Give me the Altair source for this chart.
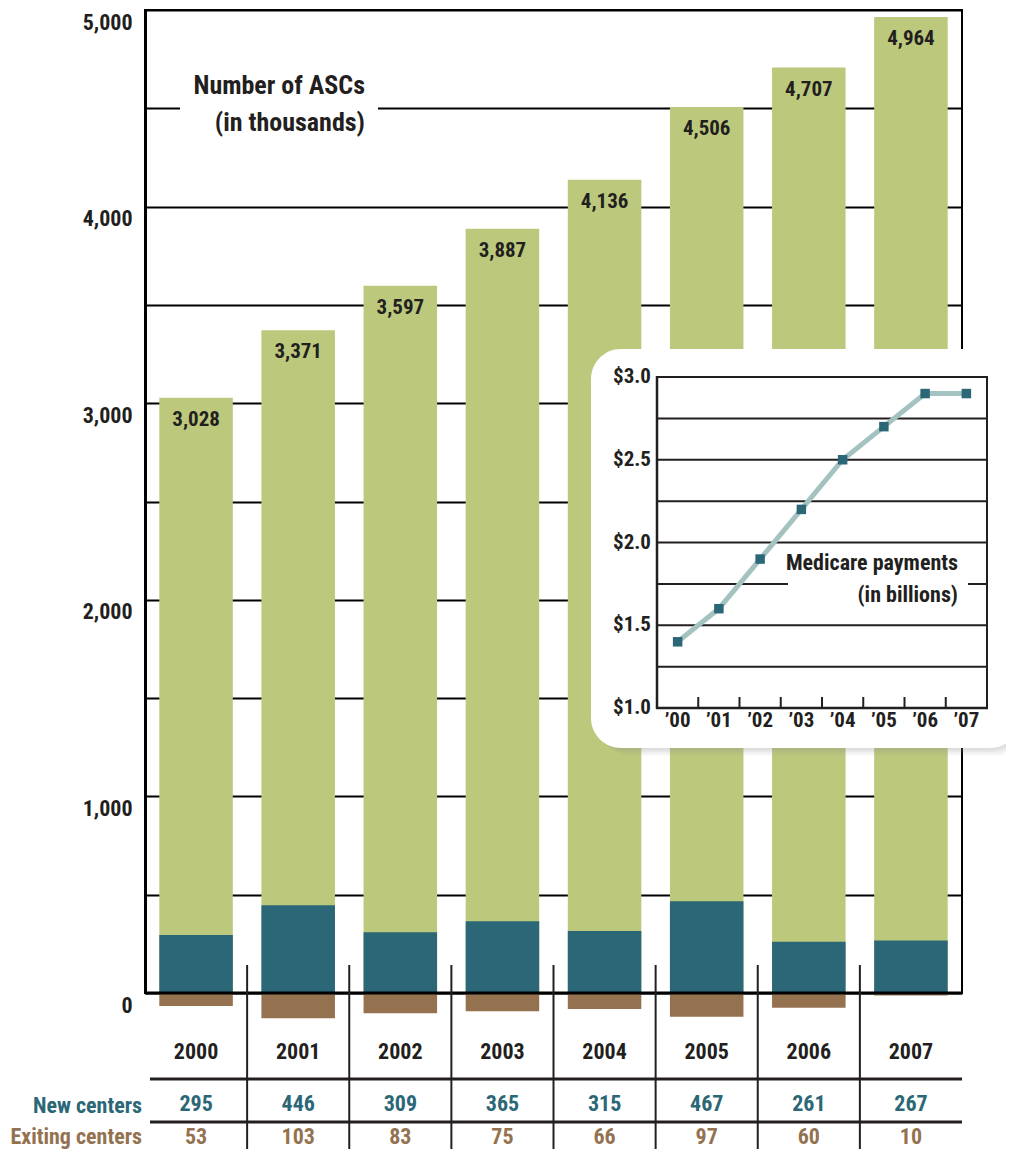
import altair as alt
import pandas as pd

# ---------------- data ----------------
years = ["2000", "2001", "2002", "2003", "2004", "2005", "2006", "2007"]
total_ascs = [3028, 3371, 3597, 3887, 4136, 4506, 4707, 4964]
new_centers = [295, 446, 309, 365, 315, 467, 261, 267]
exiting_centers = [53, 103, 83, 75, 66, 97, 60, 10]
medicare_billions = [1.4, 1.6, 1.9, 2.2, 2.5, 2.7, 2.9, 2.9]
main_grid_values = [0, 500, 1000, 1500, 2000, 2500, 3000, 3500, 4000, 4500, 5000]
inset_grid_values = [1.25, 1.5, 1.75, 2.0, 2.25, 2.5, 2.75, 3.0]
inset_label_values = [1.0, 1.5, 2.0, 2.5, 3.0]

df = pd.DataFrame({
    "year": years,
    "total": total_ascs,
    "new": new_centers,
    "exit": exiting_centers,
    "medicare": medicare_billions,
})
inset_grid_df = pd.DataFrame({"v": inset_grid_values})
inset_label_df = pd.DataFrame({"v": inset_label_values})
one = pd.DataFrame({"k": [0]})  # single row for annotation marks

# ---------------- style ----------------
FONT = "Roboto Condensed, Liberation Sans Narrow, Roboto, sans-serif"
GREEN = "#bcc97c"
TEAL = "#2b6776"
BROWN = "#947250"
LINE = "#a3c2c0"
INK = "#231f20"
W, H = 817, 983

# ---------------- main chart scales ----------------
x_main = alt.Scale(domain=years, paddingInner=0, paddingOuter=0)
y_main = alt.Scale(domain=[0, 5000], nice=False, zero=True)
BAR_W = alt.RelativeBandSize(band=0.72)

xm = alt.X("year:N", scale=x_main, axis=None)


def label(text, x, y, size, color=INK, align="right"):
    return alt.Chart(one).mark_text(
        text=text, font=FONT, fontSize=size, fontWeight="bold", color=color,
        align=align, baseline="middle"
    ).encode(x=alt.value(x), y=alt.value(y))


def box(x, x2, y, y2, color="white", **kw):
    return alt.Chart(one).mark_rect(color=color, **kw).encode(
        x=alt.value(x), x2=alt.value(x2), y=alt.value(y), y2=alt.value(y2)
    )


def hrule(x, x2, y, width=2):
    return alt.Chart(one).mark_rule(color=INK, strokeWidth=width).encode(
        x=alt.value(x), x2=alt.value(x2), y=alt.value(y)
    )


def vrule(x, y, y2, width=2):
    return alt.Chart(one).mark_rule(color=INK, strokeWidth=width).encode(
        x=alt.value(x), y=alt.value(y), y2=alt.value(y2)
    )


green = alt.Chart(df).mark_bar(width=BAR_W, color=GREEN).encode(
    x=xm,
    y=alt.Y(
        "total:Q",
        scale=y_main,
        title=None,
        axis=alt.Axis(
            orient="left",
            values=main_grid_values,
            labelExpr="datum.value % 1000 == 0 ? format(datum.value, ',') : ''",
            grid=True, gridColor="black", gridWidth=2, gridOpacity=1,
            domain=True, domainColor="black", domainWidth=3,
            ticks=False,
            labelFont=FONT, labelFontSize=22, labelFontWeight="bold", labelColor=INK,
            labelPadding=13, labelBaseline="middle", labelOffset=12,
        ),
    ),
)
teal = alt.Chart(df).mark_bar(width=BAR_W, color=TEAL).encode(
    x=xm, y=alt.Y("new:Q", scale=y_main)
)
value_labels = alt.Chart(df).mark_text(
    font=FONT, fontSize=21, fontWeight="bold", color=INK, baseline="middle", dy=22
).encode(x=xm, y=alt.Y("total:Q", scale=y_main), text=alt.Text("total:Q", format=","))

zero_line = alt.Chart(one).mark_rule(color="black", strokeWidth=3).encode(y=alt.datum(0))

title_gap = box(35, 233, 93, 103)
title1 = label("Number of ASCs", 220, 76, 26)
title2 = label("(in thousands)", 220, 113, 26)

# table below
separators = alt.Chart(df).mark_rule(color=INK, strokeWidth=2).encode(
    x=alt.X("year:N", scale=x_main, axis=None, bandPosition=0),
    y=alt.value(955), y2=alt.value(1145),
).transform_filter("datum.year != '2000'")
hline1 = hrule(5, 817, 1069, 3)
hline2 = hrule(5, 817, 1112, 3)
year_text = alt.Chart(df).mark_text(
    font=FONT, fontSize=22, fontWeight="bold", color=INK, baseline="middle"
).encode(x=xm, y=alt.value(1042), text="year:N")
new_text = alt.Chart(df).mark_text(
    font=FONT, fontSize=22, fontWeight="bold", color=TEAL, baseline="middle"
).encode(x=xm, y=alt.value(1094), text="new:Q")
exit_text = alt.Chart(df).mark_text(
    font=FONT, fontSize=22, fontWeight="bold", color=BROWN, baseline="middle"
).encode(x=xm, y=alt.value(1127), text="exit:Q")
new_label = label("New centers", -3, 1096, 22, TEAL)
exit_label = label("Exiting centers", -3, 1127, 22, BROWN)

main = alt.layer(
    green, teal, zero_line, value_labels, title_gap, title1, title2,
    separators, hline1, hline2, year_text, new_text, exit_text, new_label, exit_label,
)

# exiting centers (drawn below zero on their own scale)
brown = alt.Chart(df).mark_bar(width=BAR_W, color=BROWN).encode(
    x=alt.X("year:N", scale=x_main, axis=None),
    y=alt.Y("exit:Q", scale=alt.Scale(domain=[0, 100], range=[983, 1007.4], nice=False), axis=None),
)

# ---------------- inset ----------------
x_in = alt.Scale(domain=years, range=[512, 842], paddingInner=0, paddingOuter=0)
y_in = alt.Scale(domain=[1.0, 3.0], range=[698, 367], nice=False, zero=False)

shadows = [
    box(446 + d, 875 + d, 339 + d, 738 + d, color="#8a8a8a", opacity=op, cornerRadius=32)
    for d, op in [(8, 0.05), (6, 0.07), (4, 0.09), (2, 0.1)]
]
inset_bg = box(446, 875, 339, 738, color="white", cornerRadius=30)
in_grid = alt.Chart(inset_grid_df).mark_rule(color=INK, strokeWidth=2).encode(
    y=alt.Y("v:Q", scale=y_in, axis=None), x=alt.value(512), x2=alt.value(842)
)
in_left = vrule(512, 366, 699, 2.5)
in_right = vrule(842, 366, 699, 2)
in_bottom = hrule(511, 843, 698, 2.5)
in_ticks = alt.Chart(df).mark_rule(color=INK, strokeWidth=2).encode(
    x=alt.X("year:N", scale=x_in, axis=None, bandPosition=0),
    y=alt.value(687), y2=alt.value(698),
).transform_filter("datum.year != '2000'")
in_ylabels = alt.Chart(inset_label_df).mark_text(
    font=FONT, fontSize=21, fontWeight="bold", color=INK, align="right", baseline="middle"
).encode(
    y=alt.Y("v:Q", scale=y_in, axis=None), x=alt.value(506),
    text=alt.Text("v:Q", format="$.1f"),
)
in_xlabels = alt.Chart(df).transform_calculate(
    short="'\u2019' + substring(datum.year, 2, 4)"
).mark_text(
    font=FONT, fontSize=21, fontWeight="bold", color=INK, align="center", baseline="middle"
).encode(
    x=alt.X("year:N", scale=x_in, axis=None), y=alt.value(711), text="short:N"
)
med_gap = box(643, 823, 569, 579)
med1 = label("Medicare payments", 813, 553, 22)
med2 = label("(in billions)", 813, 585, 22)

in_line = alt.Chart(df).mark_line(color=LINE, strokeWidth=5).encode(
    x=alt.X("year:N", scale=x_in, axis=None),
    y=alt.Y("medicare:Q", scale=y_in, axis=None),
)
in_pts = alt.Chart(df).mark_square(size=90, color=TEAL, opacity=1).encode(
    x=alt.X("year:N", scale=x_in, axis=None), y=alt.Y("medicare:Q", scale=y_in, axis=None)
)

inset = alt.layer(
    *shadows, inset_bg, in_grid, in_left, in_right, in_bottom, in_ticks,
    in_ylabels, in_xlabels, med_gap, med1, med2, in_line, in_pts,
)

chart = (
    alt.layer(brown, main, inset)
    .resolve_scale(x="independent", y="independent")
    .resolve_axis(x="independent", y="independent")
    .properties(
        width=W, height=H,
        autosize=alt.AutoSizeParams(type="none"),
        padding={"left": 137, "top": 2, "right": 44, "bottom": 156},
        background="white",
    )
    .configure_view(stroke="black", strokeWidth=2)
)

chart.save("out.html", embed_options={"renderer": "svg", "actions": False})
